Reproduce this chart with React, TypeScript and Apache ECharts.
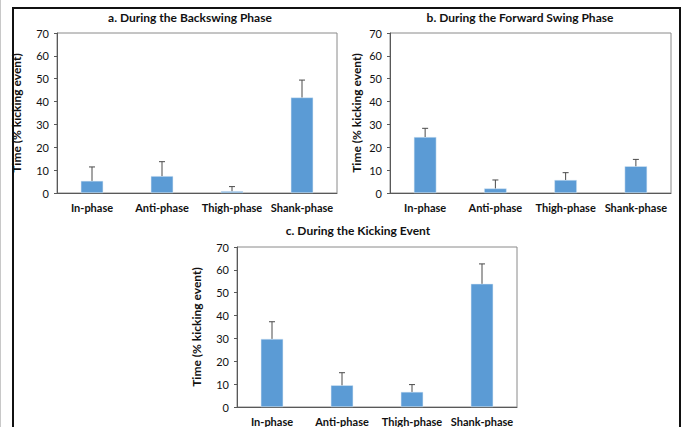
import React, { useEffect, useRef } from "react";
import * as echarts from "echarts";

const categories = ["In-phase", "Anti-phase", "Thigh-phase", "Shank-phase"];
const titles = [
  "a. During the Backswing Phase",
  "b. During the Forward Swing Phase",
  "c. During the Kicking Event",
];
const backswingMean = [5.3, 7.4, 0.8, 41.8];
const backswingSD = [6.1, 6.3, 2.0, 7.6];
const forwardMean = [24.5, 2.0, 5.7, 11.7];
const forwardSD = [3.8, 3.7, 3.2, 3.0];
const kickingMean = [29.8, 9.5, 6.6, 53.9];
const kickingSD = [7.5, 5.5, 3.2, 8.7];
const yTicks = [0, 10, 20, 30, 40, 50, 60, 70];
const yAxisTitle = "Time (% kicking event)";

const FONT = "Lato, 'Liberation Sans', sans-serif";

export default function App() {
  const ref = useRef<HTMLDivElement>(null);
  useEffect(() => {
    if (!ref.current) return;
    const chart = echarts.init(ref.current, null, { renderer: "svg" });
    const panels = [
      { mean: backswingMean, sd: backswingSD, grid: { left: 57, top: 33, width: 280, height: 160 }, gap: 35, tx: 190, ty: 17 },
      { mean: forwardMean, sd: forwardSD, grid: { left: 390, top: 33, width: 281, height: 160 }, gap: 28, tx: 520, ty: 17 },
      { mean: kickingMean, sd: kickingSD, grid: { left: 237, top: 247, width: 280, height: 160 }, gap: 35, tx: 358, ty: 230 },
    ];
    const grids: any[] = [];
    const xAxes: any[] = [];
    const yAxes: any[] = [];
    const series: any[] = [];
    const graphics: any[] = [
      { type: "line", shape: { x1: 0.5, y1: 0, x2: 0.5, y2: 427 }, style: { stroke: "#c8c8c8", lineWidth: 1 } },
      { type: "polyline", shape: { points: [[13, 430], [13, 8], [680, 8], [680, 430]] }, style: { stroke: "#111", lineWidth: 2, fill: null } },
    ];
    panels.forEach((p, i) => {
      grids.push({ ...p.grid, show: true, borderColor: "#8a8a8a", borderWidth: 1, backgroundColor: "transparent" });
      xAxes.push({
        type: "category",
        gridIndex: i,
        data: categories,
        axisLine: { lineStyle: { color: "#595959", width: 1 } },
        axisTick: { show: false },
        axisLabel: { interval: 0, color: "#111", fontFamily: FONT, fontWeight: "bold", fontSize: 11, margin: 9 },
      });
      yAxes.push({
        type: "value",
        gridIndex: i,
        min: yTicks[0],
        max: yTicks[yTicks.length - 1],
        interval: 10,
        name: yAxisTitle,
        nameLocation: "middle",
        nameGap: p.gap,
        nameTextStyle: { color: "#111", fontFamily: FONT, fontWeight: "bold", fontSize: 12 },
        axisLine: { show: true, lineStyle: { color: "#595959" } },
        axisTick: { show: true, length: 3, lineStyle: { color: "#595959" } },
        splitLine: { show: false },
        axisLabel: { color: "#111", fontFamily: FONT, fontSize: 11, margin: 8 },
      });
      series.push({
        type: "bar",
        xAxisIndex: i,
        yAxisIndex: i,
        data: p.mean,
        barWidth: "32%",
        itemStyle: { color: "#5B9BD5", borderColor: "#dbe8f5", borderWidth: 0.5 },
      });
      series.push({
        type: "custom",
        xAxisIndex: i,
        yAxisIndex: i,
        data: p.mean.map((m, k) => [k, m, m + p.sd[k]]),
        encode: { x: 0, y: [1, 2] },
        z: 5,
        renderItem: (params: any, api: any) => {
          const x = api.value(0);
          const lo = api.coord([x, api.value(1)]);
          const hi = api.coord([x, api.value(2)]);
          const st = { stroke: "#4a4a4a", lineWidth: 1 };
          return {
            type: "group",
            children: [
              { type: "line", shape: { x1: lo[0], y1: lo[1], x2: hi[0], y2: hi[1] }, style: st },
              { type: "line", shape: { x1: hi[0] - 3, y1: hi[1], x2: hi[0] + 3, y2: hi[1] }, style: st },
            ],
          };
        },
      });
      graphics.push({
        type: "text",
        x: p.tx,
        y: p.ty,
        style: {
          text: titles[i],
          fill: "#111",
          font: `bold 12px ${FONT}`,
          textAlign: "center",
          textVerticalAlign: "middle",
        },
      });
    });
    chart.setOption({
      animation: false,
      backgroundColor: "#fff",
      grid: grids,
      xAxis: xAxes,
      yAxis: yAxes,
      series,
      graphic: graphics,
    });
    return () => chart.dispose();
  }, []);
  return <div ref={ref} style={{ position: "absolute", left: 0, top: 0, width: 682, height: 427 }} />;
}
